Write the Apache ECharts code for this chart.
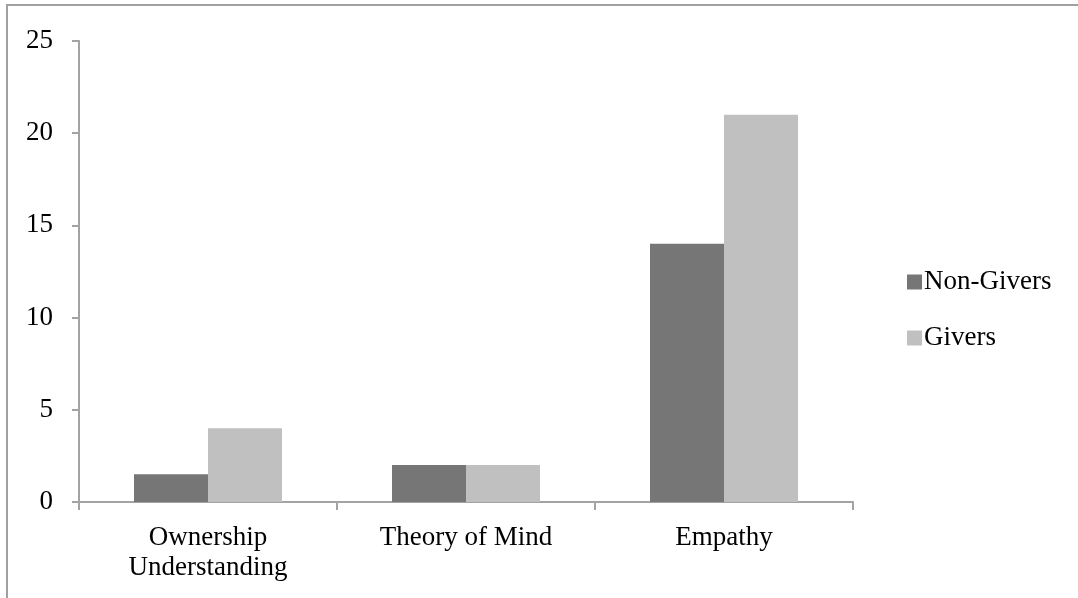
<!DOCTYPE html>
<html>
<head>
<meta charset="utf-8">
<script src="https://cdn.jsdelivr.net/npm/echarts@6/dist/echarts.min.js"></script>
<style>
  html, body { margin: 0; padding: 0; background: #fff; }
  #chart { width: 1078px; height: 598px; }
</style>
</head>
<body>
<div id="chart"></div>
<script>
// Chart data
const categories = ['Ownership\nUnderstanding', 'Theory of Mind', 'Empathy'];
const nonGivers = [1.5, 2, 14];
const givers = [4, 2, 21];
const yTicks = [0, 5, 10, 15, 20, 25];

const FONT = 'Liberation Serif';
const FONT_SIZE = 27;
const AXIS_COLOR = '#a3a3a3';

const chart = echarts.init(document.getElementById('chart'), null, { renderer: 'canvas' });

chart.setOption({
  backgroundColor: '#ffffff',
  animation: false,
  textStyle: { fontFamily: FONT, color: '#000' },
  // frame around the chart area (right and bottom edges fall outside the canvas)
  graphic: [{
    type: 'rect',
    shape: { x: 7, y: 5, width: 1100, height: 620 },
    style: { fill: 'none', stroke: '#a0a0a0', lineWidth: 2 },
    silent: true
  }],
  grid: { left: 79, top: 41, right: 225, bottom: 96 },
  legend: {
    orient: 'vertical',
    left: 902,
    top: 262,
    itemWidth: 15,
    itemHeight: 15,
    itemGap: 26,
    icon: 'rect',
    textStyle: { fontFamily: FONT, fontSize: FONT_SIZE, color: '#000', padding: [0, 0, 0, -3], lineHeight: 30 },
    data: ['Non-Givers', 'Givers']
  },
  xAxis: {
    type: 'category',
    data: categories,
    axisLine: { lineStyle: { color: AXIS_COLOR, width: 2 } },
    axisTick: { show: true, length: 8, alignWithLabel: false, lineStyle: { color: AXIS_COLOR, width: 2 } },
    axisLabel: { fontFamily: FONT, fontSize: FONT_SIZE, color: '#000', margin: 21, lineHeight: 30, interval: 0 }
  },
  yAxis: {
    type: 'value',
    min: yTicks[0],
    max: yTicks[yTicks.length - 1],
    interval: 5,
    axisLine: { show: true, lineStyle: { color: AXIS_COLOR, width: 2 } },
    axisTick: { show: true, length: 7, lineStyle: { color: AXIS_COLOR, width: 2 } },
    splitLine: { show: false },
    axisLabel: { fontFamily: FONT, fontSize: FONT_SIZE, color: '#000', margin: 26 }
  },
  series: [
    {
      name: 'Non-Givers',
      type: 'bar',
      data: nonGivers,
      barWidth: 74,
      barGap: '0%',
      itemStyle: { color: '#767676' }
    },
    {
      name: 'Givers',
      type: 'bar',
      data: givers,
      barWidth: 74,
      barGap: '0%',
      itemStyle: { color: '#c0c0c0' }
    }
  ]
});
</script>
</body>
</html>
